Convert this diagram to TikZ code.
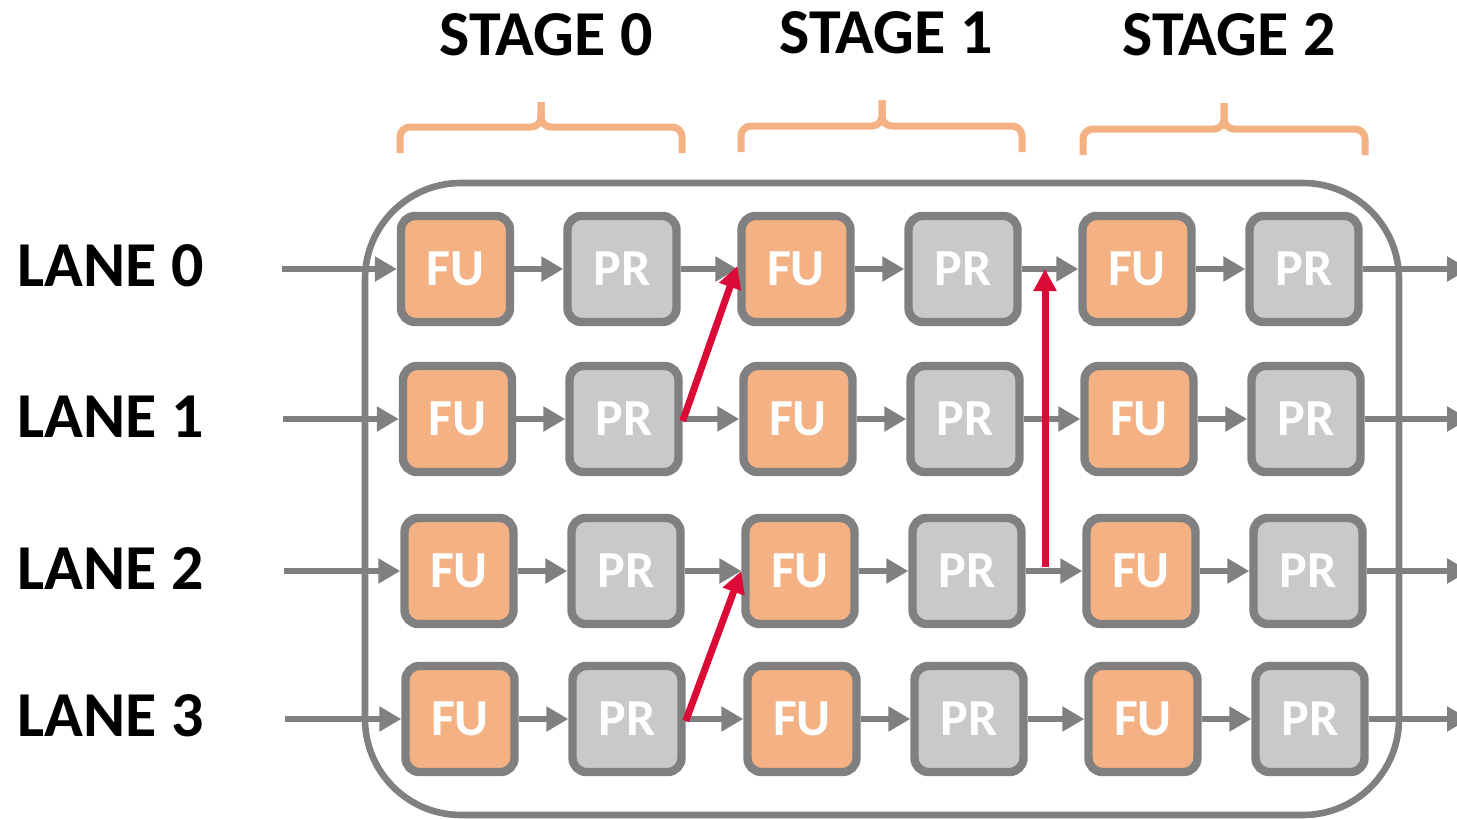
\documentclass[tikz,border=0pt]{standalone}
\usepackage{fontspec}
\setmainfont{Carlito}
\usetikzlibrary{arrows.meta}

\definecolor{fuorange}{RGB}{244,177,131}
\definecolor{prgray}{RGB}{201,201,201}
\definecolor{edgegray}{RGB}{128,128,128}
\definecolor{hopred}{RGB}{220,10,55}

\begin{document}
\begin{tikzpicture}[x=0.5pt,y=0.5pt,yscale=-1,
  unit/.style={draw=edgegray,line width=4.2pt,rounded corners=7pt,minimum width=54.5pt,minimum height=53pt,inner sep=0pt,outer sep=2.1pt,text=white,font=\fontsize{26}{26}\selectfont\bfseries},
  fu/.style={unit,fill=fuorange},
  pr/.style={unit,fill=prgray},
  flow/.style={draw=edgegray,line width=3.3pt,-{Triangle[length=11pt,width=12pt]}},
  hop/.style={draw=hopred,line width=3.5pt,-{Triangle[length=11pt,width=11pt]}},
  lane/.style={anchor=west,inner sep=0pt,font=\fontsize{32}{32}\selectfont\bfseries},
  stage/.style={inner sep=0pt,font=\fontsize{32}{32}\selectfont\bfseries},
  brace/.style={draw=fuorange,line width=3.5pt,rounded corners=5pt}]
\useasboundingbox (0,0) rectangle (1457,819);

%Shape: Rounded Rect (pipeline frame)
\draw [draw=edgegray,line width=3.3pt,rounded corners=48pt] (365,183) rectangle (1399,815);

%Braces over the stages
\draw [brace] (400,153) |- (541,127) -- (541,102);
\draw [brace] (682,153) |- (541,127) -- (541,102);
\draw [brace] (741,152) |- (882,126) -- (882,100);
\draw [brace] (1022,152) |- (882,126) -- (882,100);
\draw [brace] (1083,155) |- (1224,129) -- (1224,103);
\draw [brace] (1365,155) |- (1224,129) -- (1224,103);

% Text Node
\node [stage] (stage0) at (546,35) {STAGE 0};
\node [stage] (stage1) at (886,33) {STAGE 1};
\node [stage] (stage2) at (1229,35) {STAGE 2};

% Text Node
\node [lane] (lane0) at (17,266) {LANE 0};
\node [lane] (lane1) at (17,417) {LANE 1};
\node [lane] (lane2) at (17,569) {LANE 2};
\node [lane] (lane3) at (17,716) {LANE 3};

%lane 0
\node [fu] (fu-0-0) at (455.5,269) {FU};
\node [pr] (pr-0-0) at (622,269) {PR};
\node [fu] (fu-0-1) at (796,269) {FU};
\node [pr] (pr-0-1) at (963,269) {PR};
\node [fu] (fu-0-2) at (1137,269) {FU};
\node [pr] (pr-0-2) at (1304,269) {PR};
%lane 1
\node [fu] (fu-1-0) at (457.5,419) {FU};
\node [pr] (pr-1-0) at (624,419) {PR};
\node [fu] (fu-1-1) at (798,419) {FU};
\node [pr] (pr-1-1) at (965,419) {PR};
\node [fu] (fu-1-2) at (1139,419) {FU};
\node [pr] (pr-1-2) at (1306,419) {PR};
%lane 2
\node [fu] (fu-2-0) at (459,571) {FU};
\node [pr] (pr-2-0) at (626,571) {PR};
\node [fu] (fu-2-1) at (800,571) {FU};
\node [pr] (pr-2-1) at (967,571) {PR};
\node [fu] (fu-2-2) at (1141,571) {FU};
\node [pr] (pr-2-2) at (1308,571) {PR};
%lane 3
\node [fu] (fu-3-0) at (460,719) {FU};
\node [pr] (pr-3-0) at (627,719) {PR};
\node [fu] (fu-3-1) at (802,719) {FU};
\node [pr] (pr-3-1) at (969,719) {PR};
\node [fu] (fu-3-2) at (1143,719) {FU};
\node [pr] (pr-3-2) at (1310,719) {PR};

%lane inputs and outputs
\coordinate (in-0) at (282,269);
\coordinate (in-1) at (283,419);
\coordinate (in-2) at (284,571);
\coordinate (in-3) at (285,719);
\coordinate (out-0) at (1469,269);
\coordinate (out-1) at (1469,419);
\coordinate (out-2) at (1469,571);
\coordinate (out-3) at (1469,719);

%Straight Lines
\draw [flow] (in-0) -- (fu-0-0);
\draw [flow] (fu-0-0) -- (pr-0-0);
\draw [flow] (pr-0-0) -- (fu-0-1);
\draw [flow] (fu-0-1) -- (pr-0-1);
\draw [flow] (pr-0-1) -- (fu-0-2);
\draw [flow] (fu-0-2) -- (pr-0-2);
\draw [flow] (pr-0-2) -- (out-0);
%Straight Lines
\draw [flow] (in-1) -- (fu-1-0);
\draw [flow] (fu-1-0) -- (pr-1-0);
\draw [flow] (pr-1-0) -- (fu-1-1);
\draw [flow] (fu-1-1) -- (pr-1-1);
\draw [flow] (pr-1-1) -- (fu-1-2);
\draw [flow] (fu-1-2) -- (pr-1-2);
\draw [flow] (pr-1-2) -- (out-1);
%Straight Lines
\draw [flow] (in-2) -- (fu-2-0);
\draw [flow] (fu-2-0) -- (pr-2-0);
\draw [flow] (pr-2-0) -- (fu-2-1);
\draw [flow] (fu-2-1) -- (pr-2-1);
\draw [flow] (pr-2-1) -- (fu-2-2);
\draw [flow] (fu-2-2) -- (pr-2-2);
\draw [flow] (pr-2-2) -- (out-2);
%Straight Lines
\draw [flow] (in-3) -- (fu-3-0);
\draw [flow] (fu-3-0) -- (pr-3-0);
\draw [flow] (pr-3-0) -- (fu-3-1);
\draw [flow] (fu-3-1) -- (pr-3-1);
\draw [flow] (pr-3-1) -- (fu-3-2);
\draw [flow] (fu-3-2) -- (pr-3-2);
\draw [flow] (pr-3-2) -- (out-3);

%Red lane jumps
\coordinate (jump-b) at (1045,567);
\coordinate (jump-t) at (1045,269);
\draw [hop] ([yshift=1pt]pr-1-0.east) -- ([yshift=-1.5pt]fu-0-1.west);
\draw [hop] ([yshift=1pt]pr-3-0.east) -- (fu-2-1.west);
\draw [hop] (jump-b) -- (jump-t);

\end{tikzpicture}
\end{document}
